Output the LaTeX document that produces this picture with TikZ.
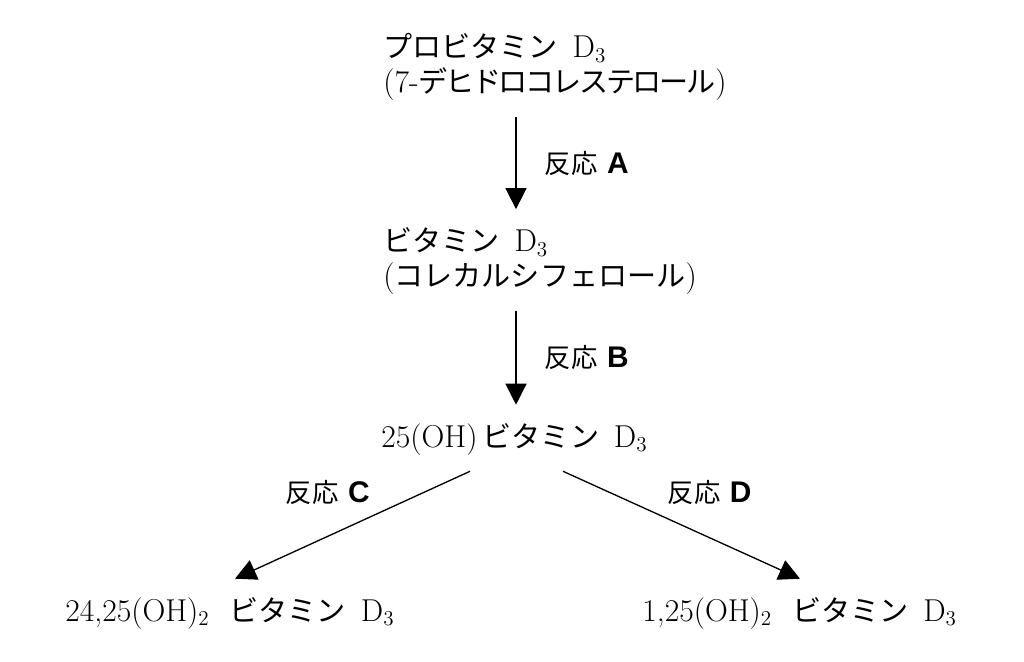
\documentclass[tikz,border=0pt]{standalone}
\usepackage{fontspec}
\newfontfamily\jpfont[Scale=0.92]{Noto Sans CJK JP}
\newfontfamily\jptight[Scale=0.92, LetterSpace=-8]{Noto Sans CJK JP}
\newfontfamily\labfont{Liberation Sans}
\newcommand\reac[1]{{\jpfont\fontsize{16.3}{20}\selectfont 反応} {\labfont\bfseries\fontsize{17}{20}\selectfont #1}}
\usetikzlibrary{arrows.meta,calc}
\tikzset{every picture/.style={/utils/exec={\fontsize{18}{20}\selectfont}}}

\begin{document}
\begin{tikzpicture}[x=0.02cm, y=-0.02cm]
  \tikzstyle{compound} = [anchor=west, align=left, inner sep=0pt]
  \tikzstyle{reaction} = [inner sep=2pt]
  \tikzstyle{arrow} = [-{Triangle[length=12pt, width=12pt]}, line width=0.75pt]

  \useasboundingbox (0,0) rectangle (1024,662);

  \node (pro) [compound] at (383,67) {{\jpfont プロビタミン}\, D$_3$\\(7-{\jptight デヒドロコレステロール})};
  \node (vitd) [compound] at (383,261) {{\jpfont ビタミン}\, D$_3$\\({\jpfont コレカルシフェロール})};
  \node (oh25) [compound] at (381,439) {25(OH)\,{\jpfont ビタミン}\, D$_3$};
  \node (oh2425) [compound] at (65,613) {24,25(OH)$_2$\,\, {\jpfont ビタミン}\, D$_3$};
  \node (oh125) [compound] at (642,613) {1,25(OH)$_2$\,\, {\jpfont ビタミン}\, D$_3$};

  \draw [arrow] ($(pro.south west)+(133,16)$) -- node [reaction, right=14pt] {\reac{A}} ($(vitd.north west)+(133,-18)$);
  \draw [arrow] ($(vitd.south west)+(133,16)$) -- node [reaction, right=14pt] {\reac{B}} ($(oh25.north west)+(135,-18)$);
  % branches to the two hydroxylated forms
  \draw [arrow] ($(oh25.south west)+(89,16)$) -- node [reaction, above=9pt, xshift=-14pt] {\reac{C}} ($(oh2425.north west)+(170,-18)$);
  \draw [arrow] ($(oh25.south west)+(182,16)$) -- node [reaction, above=9pt, xshift=16pt] {\reac{D}} ($(oh125.north west)+(158,-18)$);
\end{tikzpicture}
\end{document}
